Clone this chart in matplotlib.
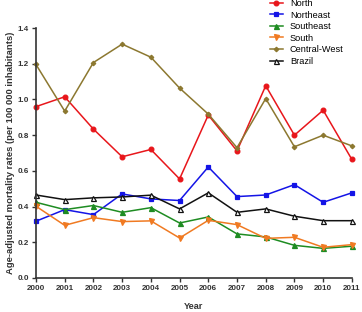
import matplotlib

matplotlib.use("Agg")
import matplotlib.pyplot as plt

plt.rcParams["font.family"] = ["Liberation Sans", "DejaVu Sans"]

years = list(range(2000, 2012))
north = [0.96, 1.015, 0.834, 0.679, 0.72, 0.555, 0.913, 0.712, 1.077, 0.80, 0.94, 0.664]
northeast = [0.318, 0.383, 0.355, 0.471, 0.443, 0.434, 0.622, 0.456, 0.465, 0.523, 0.424, 0.477]
southeast = [0.424, 0.383, 0.406, 0.368, 0.394, 0.308, 0.342, 0.247, 0.23, 0.183, 0.166, 0.178]
south = [0.402, 0.295, 0.338, 0.316, 0.32, 0.224, 0.323, 0.299, 0.222, 0.228, 0.172, 0.187]
central_west = [1.196, 0.935, 1.207, 1.31, 1.237, 1.064, 0.918, 0.73, 1.005, 0.735, 0.80, 0.74]
brazil = [0.465, 0.439, 0.449, 0.454, 0.464, 0.387, 0.477, 0.368, 0.387, 0.346, 0.321, 0.321]

series = [
    ("North", north, "#E8161B", "o", "#E8161B"),
    ("Northeast", northeast, "#1414E6", "s", "#1414E6"),
    ("Southeast", southeast, "#1E8C22", "^", "#1E8C22"),
    ("South", south, "#F07A22", "v", "#F07A22"),
    ("Central-West", central_west, "#8C7830", "D", "#8C7830"),
    ("Brazil", brazil, "#111111", "^", "white"),
]

fig = plt.figure(figsize=(3.62, 3.12), dpi=100)
ax = fig.add_axes([0.0994, 0.109, 0.8726, 0.801])

for label, vals, color, marker, face in series:
    size = 3.4 if marker in ("o", "s") else 3.6
    if marker == "D":
        size = 2.3
    ax.plot(years, vals, color=color, marker=marker, markersize=size,
            markerfacecolor=face, markeredgecolor=color, linewidth=1.1,
            markeredgewidth=0.9, label=label, clip_on=False)

ax.set_xlim(2000, 2011)
ax.set_ylim(0, 1.4)
ax.set_xticks(years)
ax.set_yticks([0.0, 0.2, 0.4, 0.6, 0.8, 1.0, 1.2, 1.4])
ax.set_yticklabels(["0.0", "0.2", "0.4", "0.6", "0.8", "1.0", "1.2", "1.4"])
for s in ("top", "right"):
    ax.spines[s].set_visible(False)
for s in ("left", "bottom"):
    ax.spines[s].set_linewidth(1.2)
    ax.spines[s].set_color("#333333")
ax.tick_params(length=3, width=1.0, labelsize=5.8, pad=2, colors="#333333")
for t in ax.get_xticklabels() + ax.get_yticklabels():
    t.set_fontweight("bold")

ax.set_xlabel("Year", fontsize=6.6, fontweight="bold", color="#333333", labelpad=7)
ax.set_ylabel("Age-adjusted mortality rates (per 100 000 inhabitants)",
              fontsize=6.8, fontweight="bold", color="#333333", labelpad=2)

fig.legend(loc="upper left", bbox_to_anchor=(0.735, 1.015), frameon=False,
           fontsize=6.6, handlelength=1.4, handletextpad=0.8, labelspacing=0.28,
           borderaxespad=0)

fig.savefig("out.png", dpi=100)
